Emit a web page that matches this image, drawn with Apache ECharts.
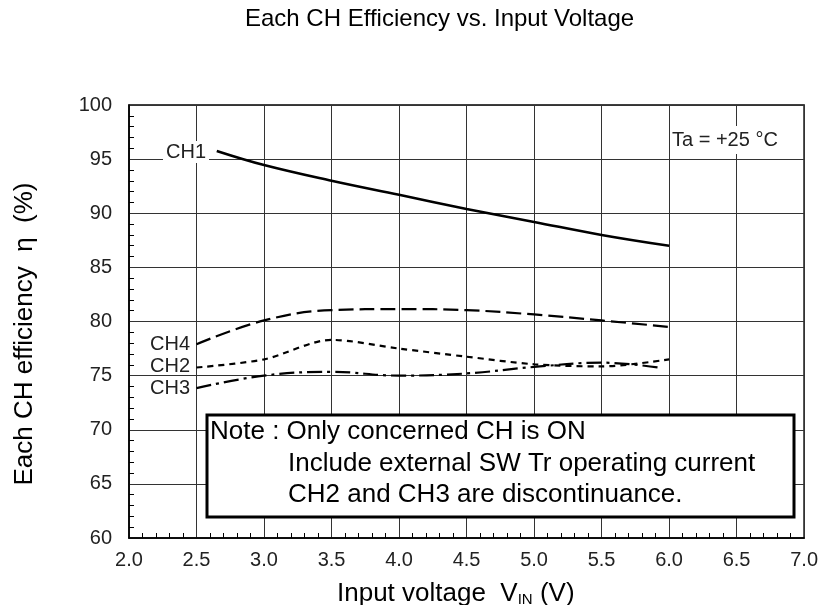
<!DOCTYPE html>
<html>
<head>
<meta charset="utf-8">
<script src="https://cdn.jsdelivr.net/npm/echarts@6/dist/echarts.min.js"></script>
<style>
  html, body { margin: 0; padding: 0; background: #fff; }
  #chart { width: 821px; height: 605px; }
</style>
</head>
<body>
<div id="chart"></div>
<script>
// Efficiency (%) of each channel against input voltage (V)
const ch1Volts = [2.65, 3.0, 3.5, 4.0, 4.5, 5.0, 5.5, 6.0];
const ch1Eff   = [95.75, 94.45, 93.0, 91.7, 90.4, 89.2, 88.0, 87.0];

const ch4Volts = [2.5, 3.0, 3.5, 4.0, 4.5, 5.0, 5.5, 6.0];
const ch4Eff   = [77.9, 80.1, 81.05, 81.15, 81.05, 80.65, 80.1, 79.5];

const ch2Volts = [2.5, 3.0, 3.5, 4.0, 4.5, 5.0, 5.5, 6.0];
const ch2Eff   = [75.75, 76.5, 78.3, 77.5, 76.75, 76.05, 75.85, 76.5];

const ch3Volts = [2.5, 3.0, 3.5, 4.0, 4.5, 5.0, 5.5, 5.95];
const ch3Eff   = [73.85, 75.0, 75.35, 75.0, 75.2, 75.8, 76.2, 75.7];

const xTicks = ['2.0', '2.5', '3.0', '3.5', '4.0', '4.5', '5.0', '5.5', '6.0', '6.5', '7.0'];
const yTicks = ['60', '65', '70', '75', '80', '85', '90', '95', '100'];

const FONT = '"Liberation Sans", Arial, Helvetica, sans-serif';
const pairs = (xs, ys) => xs.map((x, i) => [x, ys[i]]);

const chart = echarts.init(document.getElementById('chart'), null, { renderer: 'canvas' });

function curve(name, xs, ys, dash, smooth) {
  return {
    name,
    type: 'line',
    data: pairs(xs, ys),
    smooth: smooth,
    showSymbol: false,
    symbol: 'none',
    silent: true,
    lineStyle: { color: '#000', width: name === 'CH1' ? 2.5 : 2.2, type: dash, cap: 'butt' },
    z: 5
  };
}

const option = {
  backgroundColor: '#fff',
  animation: false,
  textStyle: { fontFamily: FONT },
  grid: {
    left: 129, right: 16, top: 105, bottom: 67,
    show: true, borderColor: '#000', borderWidth: 1.5, backgroundColor: 'transparent'
  },
  xAxis: {
    type: 'value', min: 2, max: 7, interval: 0.5,
    axisLine: { show: true, lineStyle: { color: '#000', width: 1.5 } },
    axisTick: { show: false, inside: true },
    minorTick: { show: true, splitNumber: 5, length: 5, lineStyle: { color: '#000', width: 1 } },
    splitLine: { show: true, lineStyle: { color: '#333', width: 1 } },
    axisLabel: {
      fontSize: 20, color: '#222', margin: 12, fontFamily: FONT,
      formatter: v => xTicks[Math.round((v - 2) / 0.5)]
    }
  },
  yAxis: {
    type: 'value', min: 60, max: 100, interval: 5,
    axisLine: { show: true, lineStyle: { color: '#000', width: 1.5 } },
    axisTick: { show: false, inside: true },
    minorTick: { show: true, splitNumber: 5, length: 5, lineStyle: { color: '#000', width: 1 } },
    splitLine: { show: true, lineStyle: { color: '#333', width: 1 } },
    axisLabel: {
      fontSize: 20, color: '#222', margin: 17, fontFamily: FONT,
      formatter: v => yTicks[Math.round((v - 60) / 5)]
    }
  },
  series: [
    curve('CH1', ch1Volts, ch1Eff, 'solid', 0.4),
    curve('CH4', ch4Volts, ch4Eff, [15, 6], 0.4),
    curve('CH2', ch2Volts, ch2Eff, [6, 5], 0.3),
    curve('CH3', ch3Volts, ch3Eff, [15, 5, 3, 5], 0.4)
  ],
  graphic: [
    // chart title
    { type: 'text', left: 245, top: 7, z: 10,
      style: { text: 'Each CH Efficiency vs. Input Voltage', font: '24px ' + FONT, fill: '#000' } },
    // axis titles
    { type: 'text', x: 337, y: 592, z: 10,
      style: {
        text: '{a|Input voltage  V}{s|IN}{a| (V)}', verticalAlign: 'middle', fill: '#000',
        rich: {
          a: { fontSize: 26, fontFamily: FONT, verticalAlign: 'bottom', lineHeight: 30 },
          s: { fontSize: 15, fontFamily: FONT, verticalAlign: 'bottom', lineHeight: 24 }
        }
      } },
    { type: 'text', x: 25, y: 334, rotation: Math.PI / 2, z: 10,
      style: { text: 'Each CH efficiency  η  (%)', font: '26px ' + FONT, fill: '#000',
               align: 'center', verticalAlign: 'middle' } },
    // curve names
    { type: 'text', x: 209, y: 152, z: 10,
      style: { text: 'CH1', font: '20px ' + FONT, fill: '#222', align: 'right', verticalAlign: 'middle',
               backgroundColor: '#fff', padding: [1, 3, 1, 3] } },
    { type: 'text', x: 190, y: 344, z: 10,
      style: { text: 'CH4', font: '20px ' + FONT, fill: '#222', align: 'right', verticalAlign: 'middle' } },
    { type: 'text', x: 190, y: 366, z: 10,
      style: { text: 'CH2', font: '20px ' + FONT, fill: '#222', align: 'right', verticalAlign: 'middle' } },
    { type: 'text', x: 190, y: 388, z: 10,
      style: { text: 'CH3', font: '20px ' + FONT, fill: '#222', align: 'right', verticalAlign: 'middle' } },
    // ambient temperature
    { type: 'text', x: 670, y: 140, z: 10,
      style: { text: 'Ta = +25 °C', font: '20px ' + FONT, fill: '#222', align: 'left', verticalAlign: 'middle',
               backgroundColor: '#fff', padding: [4, 2, 4, 2] } },
    // note box
    { type: 'rect', z: 10, shape: { x: 207, y: 415, width: 587, height: 102 },
      style: { fill: '#fff', stroke: '#000', lineWidth: 3 } },
    { type: 'text', x: 210, y: 432, z: 11,
      style: { text: 'Note : Only concerned CH is ON', font: '26px ' + FONT, fill: '#000', verticalAlign: 'middle' } },
    { type: 'text', x: 288, y: 464, z: 11,
      style: { text: 'Include external SW Tr operating current', font: '26px ' + FONT, fill: '#000', verticalAlign: 'middle' } },
    { type: 'text', x: 288, y: 495, z: 11,
      style: { text: 'CH2 and CH3 are discontinuance.', font: '26px ' + FONT, fill: '#000', verticalAlign: 'middle' } }
  ]
};

chart.setOption(option);
</script>
</body>
</html>
